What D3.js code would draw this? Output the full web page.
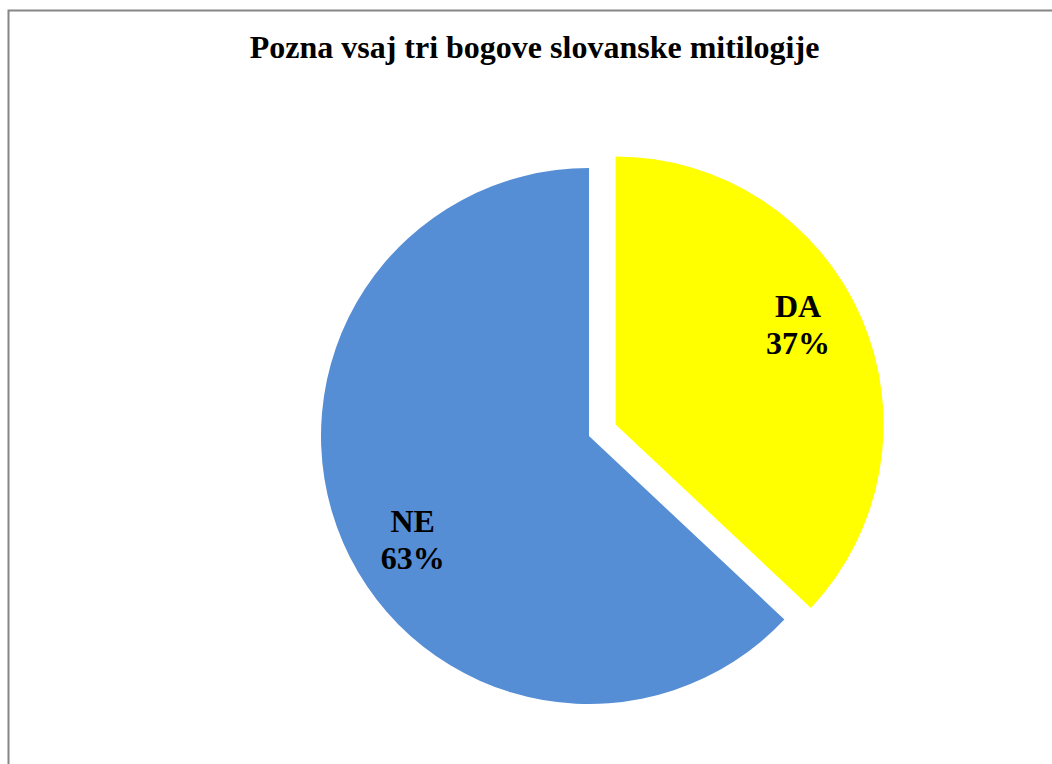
<!DOCTYPE html>
<html>
<head>
<meta charset="utf-8">
<script src="https://cdn.jsdelivr.net/npm/d3@7"></script>
<style>
  html, body { margin: 0; padding: 0; background: #fff; }
  text { font-family: "Liberation Serif", "Times New Roman", serif; font-weight: bold; fill: #000; }
</style>
</head>
<body>
<svg id="chart"></svg>
<script>
// data
const labels = ["DA", "NE"];
const values = [37, 63];
const colors = ["#ffff00", "#558ed5"];
const title = "Pozna vsaj tri bogove slovanske mitilogije";

const width = 1052;
const height = 764;
const cx = 589, cy = 436;
const radius = 268;
const explode = 29;

// label placement (radius from centre, angle shift in degrees)
const labelR = [203, 210];
const labelShift = [-2.6, -9.5];

const svg = d3.select("#chart")
  .attr("width", width)
  .attr("height", height);

// frame (only top and left visible in the crop)
svg.append("rect")
  .attr("x", 8.5).attr("y", 10.5)
  .attr("width", width + 20).attr("height", height + 20)
  .attr("fill", "none")
  .attr("stroke", "#868686")
  .attr("stroke-width", 2);

svg.append("text")
  .attr("x", 534.5)
  .attr("y", 58)
  .attr("text-anchor", "middle")
  .style("font-size", "32px")
  .text(title);

const pie = d3.pie().sort(null).value(d => d);
const arcs = pie(values);

const arcGen = d3.arc().innerRadius(0).outerRadius(radius);

const g = svg.append("g").attr("transform", `translate(${cx},${cy})`);

const slices = g.selectAll("g.slice")
  .data(arcs)
  .enter()
  .append("g")
  .attr("class", "slice")
  .attr("transform", (d, i) => {
    if (i !== 0) return null;
    const a = (d.startAngle + d.endAngle) / 2;
    return `translate(${Math.sin(a) * explode},${-Math.cos(a) * explode})`;
  });

slices.append("path")
  .attr("d", arcGen)
  .attr("fill", (d, i) => colors[i]);

// labels
slices.each(function(d, i) {
  const a = (d.startAngle + d.endAngle) / 2 + labelShift[i] * Math.PI / 180;
  const r = labelR[i];
  const t = d3.select(this).append("text")
    .attr("text-anchor", "middle")
    .style("font-size", "32px")
    .attr("transform", `translate(${Math.sin(a) * r},${-Math.cos(a) * r})`);
  t.append("tspan").attr("x", 0).attr("dy", "-0.58em").text(labels[i]);
  t.append("tspan").attr("x", 0).attr("dy", "1.16em").text(values[i] + "%");
});
</script>
</body>
</html>
